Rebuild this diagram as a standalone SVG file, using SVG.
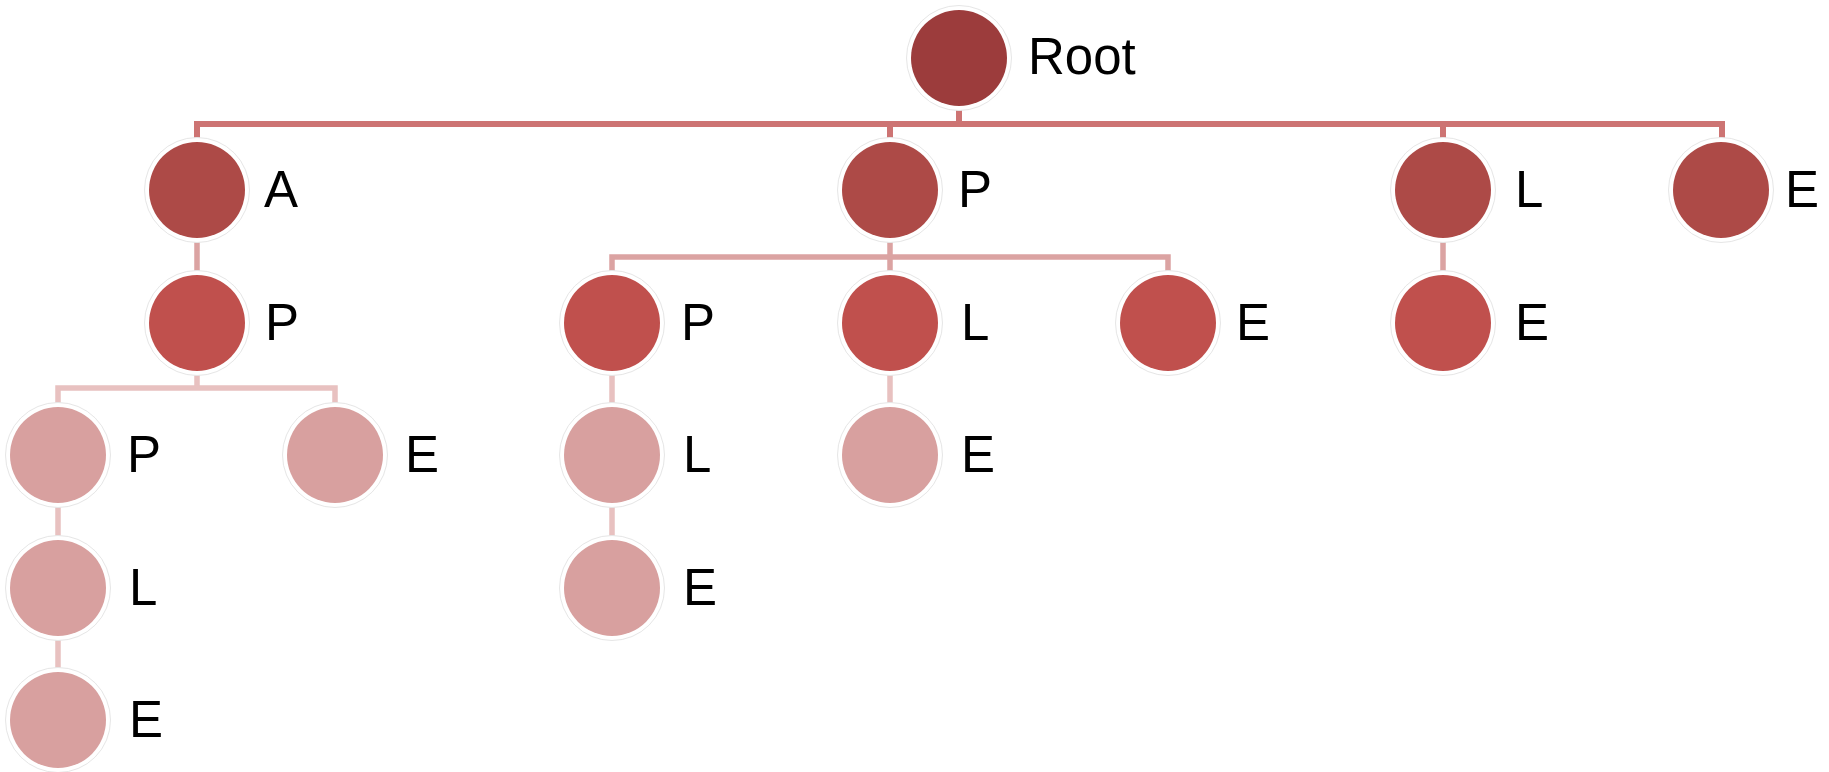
<svg xmlns="http://www.w3.org/2000/svg" width="1829" height="772" viewBox="0 0 1829 772">
<style>
.lbl{font-family:"Liberation Sans",Arial,sans-serif;font-size:51px;fill:#000}
.halo{fill:#fff;stroke:#e6e6e6;stroke-width:1}
.c0{fill:#9C3C3C}.c1{fill:#AD4A47}.c2{fill:#C0504D}.c3{fill:#D8A09F}
.e0{stroke:#CD7473;stroke-width:6;fill:none}
.e1{stroke:#DBA3A2;stroke-width:5.5;fill:none}
.e2{stroke:#E8C1C0;stroke-width:5.5;fill:none}
</style>
<rect width="1829" height="772" fill="#fff"/>
<g id="connectors">
<path class="e0" d="M959,106 V124 M197,142 V124 H1722 V142 M890,124 V142 M1443,124 V142"/>
<path class="e1" d="M197,238 V275 M890,238 V257 M612,275 V257 H1168 V275 M890,257 V275 M1443,238 V275"/>
<path class="e2" d="M197,371 V388 M58,407 V388 H335 V407 M58,503 V540 M58,636 V672 M612,371 V407 M612,503 V540 M890,371 V407"/>
</g>
<g id="n-root"><circle class="halo" cx="959" cy="58" r="52.5"/><circle class="c0" cx="959" cy="58" r="48"/><text class="lbl" x="1028" y="74">Root</text></g>
<g id="n-A"><circle class="halo" cx="197" cy="190" r="52.5"/><circle class="c1" cx="197" cy="190" r="48"/><text class="lbl" x="264" y="207">A</text></g>
<g id="n-P1"><circle class="halo" cx="890" cy="190" r="52.5"/><circle class="c1" cx="890" cy="190" r="48"/><text class="lbl" x="958" y="207">P</text></g>
<g id="n-L1"><circle class="halo" cx="1443" cy="190" r="52.5"/><circle class="c1" cx="1443" cy="190" r="48"/><text class="lbl" x="1515" y="207">L</text></g>
<g id="n-E1"><circle class="halo" cx="1721" cy="190" r="52.5"/><circle class="c1" cx="1721" cy="190" r="48"/><text class="lbl" x="1785" y="207">E</text></g>
<g id="n-AP"><circle class="halo" cx="197" cy="323" r="52.5"/><circle class="c2" cx="197" cy="323" r="48"/><text class="lbl" x="265" y="340">P</text></g>
<g id="n-PP"><circle class="halo" cx="612" cy="323" r="52.5"/><circle class="c2" cx="612" cy="323" r="48"/><text class="lbl" x="681" y="340">P</text></g>
<g id="n-PL"><circle class="halo" cx="890" cy="323" r="52.5"/><circle class="c2" cx="890" cy="323" r="48"/><text class="lbl" x="961" y="340">L</text></g>
<g id="n-PE"><circle class="halo" cx="1168" cy="323" r="52.5"/><circle class="c2" cx="1168" cy="323" r="48"/><text class="lbl" x="1236" y="340">E</text></g>
<g id="n-LE"><circle class="halo" cx="1443" cy="323" r="52.5"/><circle class="c2" cx="1443" cy="323" r="48"/><text class="lbl" x="1515" y="340">E</text></g>
<g id="n-APP"><circle class="halo" cx="58" cy="455" r="52.5"/><circle class="c3" cx="58" cy="455" r="48"/><text class="lbl" x="127" y="472">P</text></g>
<g id="n-APE"><circle class="halo" cx="335" cy="455" r="52.5"/><circle class="c3" cx="335" cy="455" r="48"/><text class="lbl" x="405" y="472">E</text></g>
<g id="n-PPL"><circle class="halo" cx="612" cy="455" r="52.5"/><circle class="c3" cx="612" cy="455" r="48"/><text class="lbl" x="683" y="472">L</text></g>
<g id="n-PLE"><circle class="halo" cx="890" cy="455" r="52.5"/><circle class="c3" cx="890" cy="455" r="48"/><text class="lbl" x="961" y="472">E</text></g>
<g id="n-APPL"><circle class="halo" cx="58" cy="588" r="52.5"/><circle class="c3" cx="58" cy="588" r="48"/><text class="lbl" x="129" y="605">L</text></g>
<g id="n-PPLE"><circle class="halo" cx="612" cy="588" r="52.5"/><circle class="c3" cx="612" cy="588" r="48"/><text class="lbl" x="683" y="605">E</text></g>
<g id="n-APPLE"><circle class="halo" cx="58" cy="720" r="52.5"/><circle class="c3" cx="58" cy="720" r="48"/><text class="lbl" x="129" y="737">E</text></g>
</svg>
